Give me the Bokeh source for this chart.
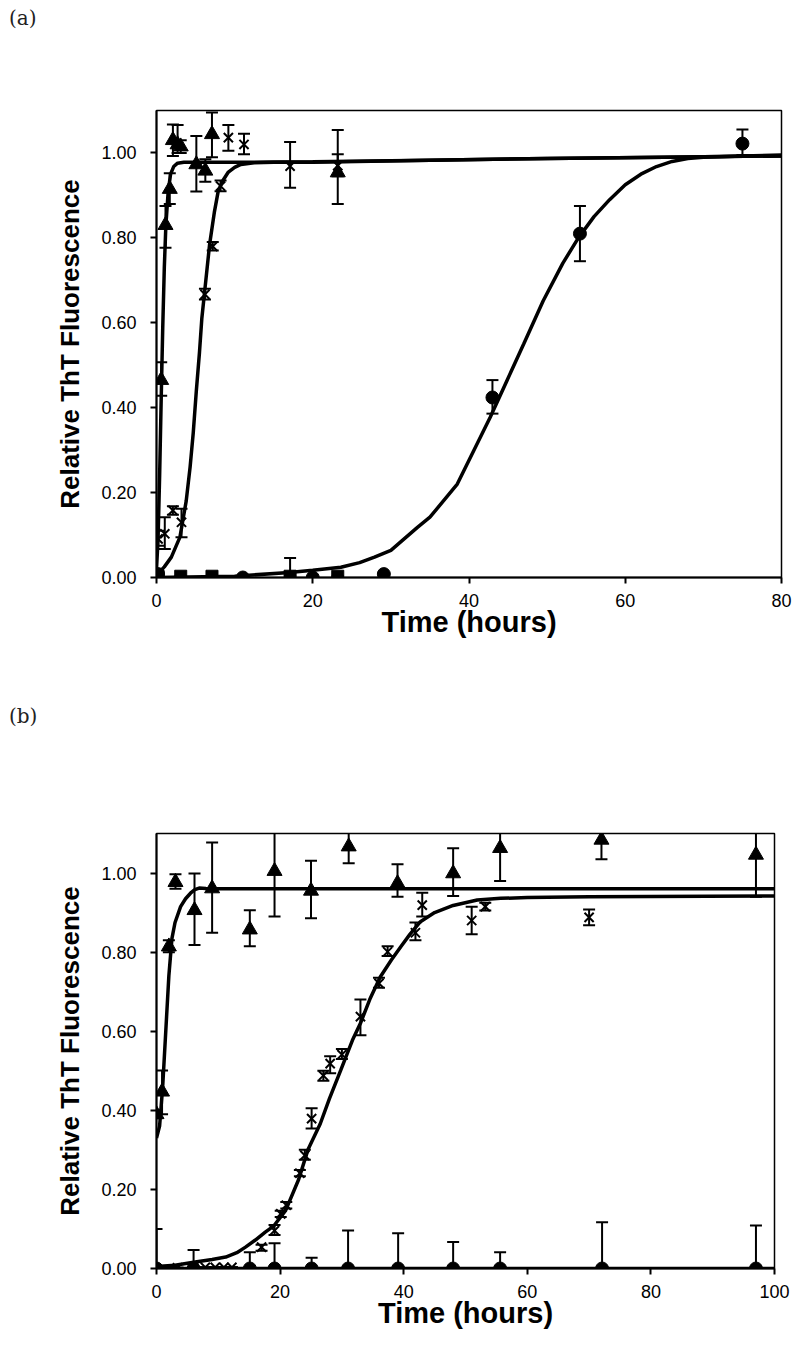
from bokeh.plotting import figure
from bokeh.models import (Whisker, ColumnDataSource, FixedTicker, NumeralTickFormatter, TeeHead,
                          Range1d, Div)
from bokeh.layouts import column
from bokeh.embed import file_html
from bokeh.resources import INLINE

# ---------------- Panel (a) data ----------------
a_tri_t = [0.6, 1.15, 1.7, 2.1, 2.7, 3.1, 5.1, 6.25, 7.1, 23.2]
a_tri_v = [0.465, 0.83, 0.915, 1.03, 1.02, 1.015, 0.973, 0.958, 1.044, 0.954]
a_tri_up = [0.507, 0.875, 0.952, 1.067, 1.066, 1.03, 1.04, 0.985, 1.095, 1.054]
a_tri_dn = [0.428, 0.777, 0.88, 0.993, 1.0, 1.0, 0.909, 0.932, 0.99, 0.88]

a_x_t = [0.2, 1.06, 2.1, 3.2, 6.2, 7.2, 8.2, 9.2, 11.2, 17.1, 23.2]
a_x_v = [0.091, 0.103, 0.158, 0.13, 0.667, 0.78, 0.922, 1.036, 1.02, 0.969, 0.97]
a_x_up = [0.11, 0.142, 0.168, 0.162, 0.68, 0.79, 0.935, 1.066, 1.045, 1.026, 0.997]
a_x_dn = [0.075, 0.067, 0.148, 0.095, 0.655, 0.77, 0.91, 1.005, 0.997, 0.918, 0.945]

a_cir_t = [0.2, 11.05, 20.0, 29.1, 43.0, 54.2, 75.0]
a_cir_v = [0.008, 0.0, 0.0, 0.008, 0.424, 0.81, 1.022]
a_cir_up = [0.008, 0.0, 0.0, 0.008, 0.465, 0.875, 1.055]
a_cir_dn = [0.008, 0.0, 0.0, 0.008, 0.386, 0.745, 0.995]

a_sq_t = [0.2, 3.1, 7.1, 17.1, 23.2]
a_sq_v = [0.003, 0.003, 0.003, 0.003, 0.003]
a_sq_up = [0.003, 0.003, 0.003, 0.046, 0.003]
a_sq_dn = [0.003, 0.003, 0.003, 0.003, 0.003]

a_fit_tri_t = [0, 0.2, 0.4, 0.6, 0.8, 1.0, 1.2, 1.5, 1.8, 2.2, 2.7, 3.5, 5, 10, 20, 35, 50, 65, 80]
a_fit_tri_v = [0.02, 0.09, 0.24, 0.42, 0.59, 0.73, 0.83, 0.91, 0.95, 0.968, 0.976, 0.978, 0.978, 0.978,
               0.979, 0.983, 0.987, 0.99, 0.993]
a_fit_x_t = [0, 0.4, 1.0, 1.9, 3.0, 3.8, 4.3, 4.7, 5.1, 5.5, 5.8, 6.2, 6.8, 7.4, 7.9, 8.5, 9.2, 10,
             10.8, 12.5, 15, 20, 35, 50, 65, 80]
a_fit_x_v = [0.005, 0.013, 0.025, 0.048, 0.095, 0.18, 0.26, 0.34, 0.44, 0.53, 0.61, 0.68, 0.785, 0.86,
             0.91, 0.935, 0.955, 0.966, 0.973, 0.977, 0.978, 0.978, 0.983, 0.987, 0.99, 0.993]
a_fit_cir_t = [0, 10, 17, 20, 23.6, 26, 27.9, 30, 33.4, 35, 38.5, 42.7, 47, 49.5, 52, 54, 56, 58, 60,
               62, 64, 66, 68, 70, 75, 80]
a_fit_cir_v = [0.0, 0.003, 0.012, 0.017, 0.024, 0.035, 0.048, 0.064, 0.118, 0.142, 0.22, 0.377, 0.55,
               0.652, 0.74, 0.80, 0.85, 0.89, 0.925, 0.95, 0.968, 0.98, 0.987, 0.99, 0.993, 0.995]

a_xticks = [0, 20, 40, 60, 80]

# ---------------- Panel (b) data ----------------
b_tri_t = [0, 0.9, 2.0, 3.07, 6.15, 9.0, 15.1, 19.1, 25.0, 31.1, 39.0, 48.0, 55.6, 72.0, 97.0]
b_tri_v = [0.39, 0.447, 0.814, 0.977, 0.906, 0.961, 0.857, 1.005, 0.955, 1.067, 0.974, 0.999, 1.063,
           1.084, 1.046]
b_tri_up = [0.40, 0.501, 0.83, 0.997, 0.999, 1.077, 0.906, 1.12, 1.031, 1.12, 1.022, 1.063, 1.12, 1.12, 1.12]
b_tri_dn = [0.38, 0.39, 0.80, 0.96, 0.818, 0.849, 0.815, 0.89, 0.886, 1.025, 0.94, 0.942, 0.98, 1.035, 0.94]

b_x_t = [0, 3.4, 6.0, 7.9, 9.5, 10.9, 12.2, 17.0, 19.1, 20.1, 21.0, 23.2, 24.0, 25.1, 27.0, 28.1,
         30.0, 33.0, 36.0, 37.4, 41.9, 43.0, 51.0, 53.2, 70.0]
b_x_v = [0.0, 0.002, 0.002, 0.003, 0.003, 0.003, 0.003, 0.054, 0.096, 0.138, 0.16, 0.241, 0.286, 0.379,
         0.488, 0.518, 0.541, 0.637, 0.721, 0.801, 0.849, 0.919, 0.88, 0.915, 0.888]
b_x_up = [0.0, 0.002, 0.002, 0.003, 0.003, 0.003, 0.003, 0.06, 0.11, 0.146, 0.168, 0.249, 0.30, 0.405,
          0.50, 0.537, 0.555, 0.68, 0.735, 0.815, 0.875, 0.95, 0.915, 0.925, 0.908]
b_x_dn = [0.0, 0.002, 0.002, 0.003, 0.003, 0.003, 0.003, 0.045, 0.085, 0.13, 0.152, 0.233, 0.275, 0.354,
          0.475, 0.494, 0.53, 0.59, 0.71, 0.79, 0.83, 0.89, 0.845, 0.905, 0.868]

b_cir_t = [0, 6.0, 15.1, 19.1, 25.1, 31.0, 39.1, 48.0, 55.6, 72.1, 97.0]
b_cir_v = [0, 0, 0, 0, 0, 0, 0, 0, 0, 0, 0]
b_cir_up = [0.10, 0.047, 0.041, 0.064, 0.027, 0.096, 0.089, 0.067, 0.041, 0.117, 0.109]

b_fit_tri_t = [0, 0.5, 1.0, 1.5, 2.0, 2.5, 3.0, 3.9, 4.7, 5.5, 6.2, 6.9, 8, 10, 20, 50, 100]
b_fit_tri_v = [0.33, 0.36, 0.46, 0.60, 0.74, 0.835, 0.875, 0.915, 0.935, 0.949, 0.958, 0.962, 0.961,
               0.96, 0.96, 0.96, 0.96]
b_fit_x_t = [0, 3, 6, 9, 11.2, 13, 14.4, 16, 17.6, 19, 20.9, 23, 24.5, 26.5, 28, 29.8, 31.7, 33, 34.5,
             36.2, 38, 39.5, 41, 42.7, 45, 48, 51.9, 55.7, 60, 70, 80, 100]
b_fit_x_v = [0.005, 0.008, 0.016, 0.023, 0.029, 0.04, 0.054, 0.072, 0.092, 0.108, 0.147, 0.225, 0.30,
             0.366, 0.43, 0.501, 0.577, 0.62, 0.68, 0.737, 0.78, 0.813, 0.845, 0.877, 0.90, 0.918,
             0.932, 0.936, 0.938, 0.94, 0.941, 0.942]
b_fit_cir_t = [0, 100]
b_fit_cir_v = [0.0, 0.0]

b_xticks = [0, 20, 40, 60, 80, 100]
yticks = [0.0, 0.2, 0.4, 0.6, 0.8, 1.0]

FONT = "Liberation Sans"


def make_fig(xmax, xticks, width, height, bl, br, bt, bb):
    p = figure(width=width, height=height, output_backend="svg", toolbar_location=None,
               x_range=Range1d(0, xmax), y_range=Range1d(0, 1.1),
               min_border_left=bl, min_border_right=br, min_border_top=bt, min_border_bottom=bb)
    p.xgrid.visible = False
    p.ygrid.visible = False
    p.outline_line_color = "black"
    p.outline_line_width = 1.5
    for ax in (p.xaxis[0], p.yaxis[0]):
        ax.axis_line_width = 2
        ax.major_tick_line_width = 2
        ax.major_tick_out = 6
        ax.major_tick_in = 0
        ax.minor_tick_line_color = None
        ax.major_label_text_font = FONT
        ax.major_label_text_font_size = "18px"
        ax.major_label_text_color = "black"
        ax.axis_label_text_font = FONT
        ax.axis_label_text_font_style = "bold"
        ax.axis_label_text_color = "black"
    p.xaxis.axis_label_text_font_size = "29px"
    p.yaxis.axis_label_text_font_size = "26px"
    p.xaxis.ticker = FixedTicker(ticks=xticks)
    p.yaxis.ticker = FixedTicker(ticks=yticks)
    p.yaxis.formatter = NumeralTickFormatter(format="0.00")
    p.xaxis.axis_label = "Time (hours)"
    p.yaxis.axis_label = "Relative ThT Fluorescence"
    p.yaxis.major_label_standoff = 14
    p.xaxis.major_label_standoff = 10
    p.yaxis.axis_label_standoff = 13
    p.xaxis.axis_label_standoff = -4
    return p


def panel_label(text, width):
    return Div(text=text, width=width, height=40, margin=(0, 0, 0, 0),
               styles={"font-family": "DejaVu Serif", "font-size": "20px", "color": "#222222",
                       "padding-left": "9px", "padding-top": "6px", "line-height": "24px",
                       "box-sizing": "border-box"})


def errbars(p, t, up, dn):
    src = ColumnDataSource(dict(t=t, up=up, dn=dn))
    w = Whisker(base="t", upper="up", lower="dn", source=src, line_color="black", line_width=2,
                upper_head=TeeHead(size=12, line_width=2, line_color="black"),
                lower_head=TeeHead(size=12, line_width=2, line_color="black"))
    p.add_layout(w)


# ---------------- Figure (a) ----------------
pa = make_fig(80, a_xticks, 799, 658, 155, 10, 70, 121)
for ft, fv in ((a_fit_tri_t, a_fit_tri_v), (a_fit_x_t, a_fit_x_v), (a_fit_cir_t, a_fit_cir_v)):
    pa.line(ft, fv, line_color="black", line_width=3.5)
errbars(pa, a_tri_t, a_tri_up, a_tri_dn)
errbars(pa, a_x_t, a_x_up, a_x_dn)
errbars(pa, a_cir_t, a_cir_up, a_cir_dn)
errbars(pa, a_sq_t, a_sq_up, a_sq_dn)
pa.scatter(a_sq_t, a_sq_v, marker="square", size=12, color="black")
pa.scatter(a_cir_t, a_cir_v, marker="circle", size=13, color="black")
pa.scatter(a_x_t, a_x_v, marker="x", size=13, line_color="black", line_width=2)
pa.scatter(a_tri_t, a_tri_v, marker="triangle", size=15, color="black")

# ---------------- Figure (b) ----------------
pb = make_fig(100, b_xticks, 792, 623, 156, 18, 95, 93)
for ft, fv in ((b_fit_tri_t, b_fit_tri_v), (b_fit_x_t, b_fit_x_v), (b_fit_cir_t, b_fit_cir_v)):
    pb.line(ft, fv, line_color="black", line_width=3.5)
errbars(pb, b_tri_t, b_tri_up, b_tri_dn)
errbars(pb, b_x_t, b_x_up, b_x_dn)
errbars(pb, b_cir_t, b_cir_up, b_cir_v)
pb.scatter(b_cir_t, b_cir_v, marker="circle", size=13, color="black")
pb.scatter(b_x_t, b_x_v, marker="x", size=13, line_color="black", line_width=2)
pb.scatter(b_tri_t, b_tri_v, marker="triangle", size=15, color="black")

layout = column(panel_label("(a)", 792), pa, panel_label("(b)", 792), pb, spacing=0)
open("out.html", "w").write(file_html(layout, INLINE))
